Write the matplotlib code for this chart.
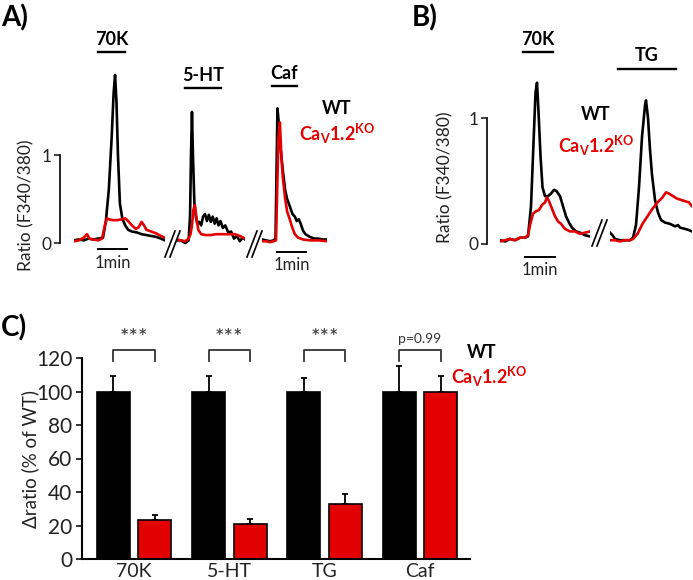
import numpy as np
import matplotlib
matplotlib.use("Agg")
import matplotlib.pyplot as plt
from matplotlib.lines import Line2D

plt.rcParams['font.family'] = ['Lato', 'DejaVu Sans']
plt.rcParams['mathtext.fontset'] = 'custom'
plt.rcParams['mathtext.rm'] = 'Lato'
plt.rcParams['mathtext.bf'] = 'Lato:bold'

RED = '#e30000'
KO_LABEL = r'$\mathbf{Ca_{V}1.2^{KO}}$'

# ---- panel A traces (time in s, ratio F340/380) ----
a1_wt_t = [0, 10, 20, 30, 40, 50, 60, 66, 72, 78, 82, 85, 88, 91, 95, 100, 106, 112, 120, 130, 140, 150, 160, 170, 180, 188]
a1_wt_v = [0.03, 0.04, 0.03, 0.05, 0.04, 0.05, 0.06, 0.25, 0.6, 1.2, 1.7, 1.91, 1.6, 1.0, 0.45, 0.28, 0.2, 0.15, 0.13, 0.12, 0.1, 0.09, 0.08, 0.07, 0.05, 0.03]
a1_ko_t = [0, 10, 20, 27, 32, 40, 50, 58, 64, 68, 72, 80, 90, 100, 106, 112, 120, 128, 134, 140, 145, 150, 160, 170, 180, 188]
a1_ko_v = [0.02, 0.03, 0.06, 0.1, 0.05, 0.04, 0.03, 0.05, 0.2, 0.28, 0.27, 0.26, 0.26, 0.27, 0.28, 0.25, 0.2, 0.16, 0.18, 0.24, 0.2, 0.15, 0.13, 0.11, 0.08, 0.06]

a2_wt_t = [0, 8, 17, 24, 27, 29, 31, 33, 36, 39, 42, 46, 50, 54, 58, 62, 66, 70, 74, 78, 82, 86, 90, 95, 100, 106, 112, 118, 124, 130, 136, 141]
a2_wt_v = [0.03, 0.03, 0.0, 0.03, 0.3, 1.0, 1.49, 1.0, 0.45, 0.3, 0.22, 0.24, 0.2, 0.3, 0.33, 0.25, 0.32, 0.24, 0.3, 0.22, 0.28, 0.2, 0.25, 0.17, 0.2, 0.12, 0.13, 0.05, 0.08, 0.02, 0.06, 0.04]
a2_ko_t = [0, 8, 17, 24, 28, 31, 34, 37, 40, 44, 50, 60, 70, 80, 90, 100, 110, 120, 130, 141]
a2_ko_v = [0.04, 0.03, 0.02, 0.05, 0.1, 0.2, 0.38, 0.43, 0.3, 0.15, 0.1, 0.09, 0.09, 0.1, 0.1, 0.1, 0.1, 0.1, 0.08, 0.05]

a3_wt_t = [0, 8, 17, 24, 28, 30, 32, 35, 38, 43, 48, 52, 58, 63, 68, 72, 76, 80, 85, 90, 99, 108, 116, 125, 135]
a3_wt_v = [0.04, 0.03, 0.02, 0.03, 0.05, 0.8, 1.53, 1.35, 1.1, 0.83, 0.6, 0.5, 0.41, 0.33, 0.3, 0.25, 0.27, 0.22, 0.14, 0.1, 0.07, 0.05, 0.05, 0.04, 0.04]
a3_ko_t = [0, 8, 17, 24, 29, 31, 34, 37, 40, 43, 48, 52, 58, 63, 68, 75, 85, 99, 116, 135]
a3_ko_v = [0.02, 0.02, 0.01, 0.02, 0.03, 0.5, 1.2, 1.37, 1.0, 0.75, 0.5, 0.36, 0.26, 0.17, 0.1, 0.06, 0.04, 0.03, 0.03, 0.02]

# ---- panel B traces ----
b1_wt_t = [0, 10, 20, 30, 40, 50, 56, 62, 67, 71, 74, 77, 81, 85, 90, 96, 102, 108, 113, 120, 126, 132, 138, 144, 152, 160, 170, 180]
b1_wt_v = [0.03, 0.02, 0.04, 0.03, 0.05, 0.05, 0.06, 0.3, 0.8, 1.2, 1.28, 1.05, 0.7, 0.45, 0.38, 0.38, 0.4, 0.43, 0.42, 0.38, 0.3, 0.22, 0.17, 0.13, 0.1, 0.09, 0.07, 0.06]
b1_ko_t = [0, 10, 20, 30, 40, 50, 56, 60, 66, 72, 78, 84, 90, 94, 98, 104, 110, 116, 122, 130, 140, 150, 160, 170, 180]
b1_ko_v = [0.02, 0.03, 0.04, 0.03, 0.05, 0.05, 0.07, 0.15, 0.24, 0.26, 0.27, 0.31, 0.33, 0.37, 0.34, 0.28, 0.22, 0.18, 0.16, 0.12, 0.1, 0.1, 0.08, 0.09, 0.1]

b2_wt_t = [0, 5, 10, 20, 30, 40, 46, 52, 58, 64, 70, 72, 76, 80, 84, 90, 96, 102, 110, 120, 130, 136, 140, 150, 158, 164]
b2_wt_v = [0.09, 0.07, 0.04, 0.03, 0.03, 0.03, 0.05, 0.15, 0.45, 0.85, 1.1, 1.14, 1.0, 0.75, 0.55, 0.35, 0.25, 0.19, 0.17, 0.16, 0.14, 0.15, 0.13, 0.12, 0.11, 0.1]
b2_ko_t = [0, 10, 20, 30, 40, 46, 55, 65, 75, 85, 95, 105, 112, 118, 126, 134, 142, 150, 158, 164]
b2_ko_v = [0.03, 0.03, 0.02, 0.03, 0.03, 0.04, 0.08, 0.16, 0.22, 0.28, 0.33, 0.37, 0.41, 0.4, 0.38, 0.36, 0.35, 0.34, 0.33, 0.3]

# ---- panel C bars (% of WT) ----
groups = ['70K', '5-HT', 'TG', 'Caf']
wt_mean = [100, 100, 100, 100]
wt_err = [9, 9, 8, 15]
ko_mean = [23, 21, 33, 100]
ko_err = [3, 3, 6, 9]
sig_labels = ['***', '***', '***', 'p=0.99']

W, H = 693, 580
fig = plt.figure(figsize=(W / 100, H / 100), dpi=100)


def px_box(x0, y0, x1, y1):
    return [x0 / W, 1 - y1 / H, (x1 - x0) / W, (y1 - y0) / H]


def trace_axes(left, tmax, pps, zero, ppu, ymin=-0.25, ymax=2.3):
    ax = fig.add_axes(px_box(left, zero - ymax * ppu, left + tmax * pps, zero - ymin * ppu))
    ax.set_xlim(0, tmax)
    ax.set_ylim(ymin, ymax)
    for s in ax.spines.values():
        s.set_visible(False)
    ax.set_xticks([])
    ax.set_yticks([])
    ax.patch.set_visible(False)
    return ax


def scale_spine(ax, offset_px):
    sp = ax.spines['left']
    sp.set_visible(True)
    sp.set_bounds(0, 1)
    sp.set_position(('outward', offset_px * 0.72))
    sp.set_linewidth(1.2)
    ax.set_yticks([0, 1])
    ax.set_yticklabels(['0', '1'])
    ax.tick_params(axis='y', length=4, width=1.2, labelsize=12.5, pad=2, colors='#222222')


def stim(ax, label, t0, t1, y, dy):
    ax.plot([t0, t1], [y, y], color='k', lw=1.7, clip_on=False)
    ax.text((t0 + t1) / 2, y + dy, label, ha='center', va='bottom',
            fontsize=13, fontweight='bold', clip_on=False)


def min_bar(ax, t0, y, dy):
    ax.plot([t0, t0 + 60], [y, y], color='k', lw=1.4, clip_on=False)
    ax.text(t0 + 30, y - dy, '1min', ha='center', va='top', fontsize=12,
            color='#222222', clip_on=False)


def brk(x0, y0):
    for d in (0, 5):
        fig.add_artist(Line2D([(x0 + d) / W, (x0 + d + 10) / W],
                              [1 - y0 / H, 1 - (y0 - 26) / H], color='k', lw=1.2))


# ---------------- panel A ----------------
ppsA, zeroA, ppuA = 0.483, 243, 88
axA1 = trace_axes(74, 188, ppsA, zeroA, ppuA)
axA2 = trace_axes(177, 141, ppsA, zeroA, ppuA)
axA3 = trace_axes(262, 135, ppsA, zeroA, ppuA)
for ax, (wt_t, wt_v, ko_t, ko_v) in zip(
        [axA1, axA2, axA3],
        [(a1_wt_t, a1_wt_v, a1_ko_t, a1_ko_v),
         (a2_wt_t, a2_wt_v, a2_ko_t, a2_ko_v),
         (a3_wt_t, a3_wt_v, a3_ko_t, a3_ko_v)]):
    ax.plot(wt_t, wt_v, color='k', lw=1.9)
    ax.plot(ko_t, ko_v, color=RED, lw=1.9)
scale_spine(axA1, 14)
stim(axA1, '70K', 50, 106, 2.17, 0.05)
stim(axA2, '5-HT', 17, 91, 1.76, 0.05)
stim(axA3, 'Caf', 21, 72, 1.78, 0.05)
min_bar(axA1, 50, -0.07, 0.07)
min_bar(axA3, 31, -0.1, 0.06)
brk(165, 257)
brk(247, 257)

fig.text(26 / W, 1 - 205 / H, 'Ratio (F340/380)', rotation=90, ha='center', va='center',
         fontsize=12.5, color='#222222')
fig.text(337 / W, 1 - 108 / H, 'WT', ha='center', va='center', fontsize=13, fontweight='bold')
fig.text(299 / W, 1 - 134 / H, KO_LABEL, ha='left', va='center', fontsize=13, color=RED)
fig.text(1 / W, 1 - 18 / H, 'A)', ha='left', va='center', fontsize=20, fontweight='bold')

# ---------------- panel B ----------------
ppsB, zeroB, ppuB = 0.5, 244, 126
axB1 = trace_axes(500, 180, ppsB, zeroB, ppuB, ymin=-0.2, ymax=1.7)
axB2 = trace_axes(610, 164, ppsB, zeroB, ppuB, ymin=-0.2, ymax=1.7)
for ax, (wt_t, wt_v, ko_t, ko_v) in zip(
        [axB1, axB2],
        [(b1_wt_t, b1_wt_v, b1_ko_t, b1_ko_v),
         (b2_wt_t, b2_wt_v, b2_ko_t, b2_ko_v)]):
    ax.plot(wt_t, wt_v, color='k', lw=1.9)
    ax.plot(ko_t, ko_v, color=RED, lw=1.9)
scale_spine(axB1, 13)
stim(axB1, '70K', 46, 106, 1.52, 0.035)
stim(axB2, 'TG', 16, 132, 1.39, 0.035)
min_bar(axB1, 50, -0.1, 0.045)
brk(592, 246)

fig.text(445 / W, 1 - 177 / H, 'Ratio (F340/380)', rotation=90, ha='center', va='center',
         fontsize=12.5, color='#222222')
fig.text(596 / W, 1 - 115 / H, 'WT', ha='center', va='center', fontsize=13, fontweight='bold')
fig.text(558 / W, 1 - 146 / H, KO_LABEL, ha='left', va='center', fontsize=13, color=RED)
fig.text(412 / W, 1 - 18 / H, 'B)', ha='left', va='center', fontsize=20, fontweight='bold')

# ---------------- panel C ----------------
axC = fig.add_axes(px_box(82, 358, 470, 559))
x = np.arange(len(groups))
off, bw = 0.218, 0.346
axC.bar(x - off, wt_mean, bw, color='k', edgecolor='k', lw=1.2, zorder=2)
axC.bar(x + off, ko_mean, bw, color=RED, edgecolor='k', lw=1.2, zorder=2)
axC.errorbar(x - off, wt_mean, yerr=[np.zeros(4), wt_err], fmt='none', ecolor='k',
             elinewidth=1.3, capsize=2.5, capthick=1.3, zorder=1)
axC.errorbar(x + off, ko_mean, yerr=[np.zeros(4), ko_err], fmt='none', ecolor='k',
             elinewidth=1.3, capsize=2.5, capthick=1.3, zorder=1)
for i, lab in enumerate(sig_labels):
    axC.plot([i - off, i - off, i + off, i + off], [118, 125, 125, 118], color='#333333',
             lw=1.3, clip_on=False)
    if lab.startswith('p'):
        axC.text(i, 128, lab, ha='center', va='bottom', fontsize=10, color='#333333', clip_on=False)
    else:
        axC.text(i, 126, lab, ha='center', va='bottom', fontsize=16, color='#333333', clip_on=False)

axC.set_xlim(-0.546, 3.526)
axC.set_ylim(0, 120)
axC.set_yticks(range(0, 121, 20))
axC.set_xticks(x)
axC.set_xticklabels(groups)
axC.tick_params(axis='y', length=4, width=1.3, labelsize=15, pad=3, colors='#222222')
axC.tick_params(axis='x', length=0, labelsize=14, pad=3, colors='#222222')
for s in ['top', 'right']:
    axC.spines[s].set_visible(False)
for s in ['left', 'bottom']:
    axC.spines[s].set_linewidth(1.5)
axC.patch.set_visible(False)

fig.text(30 / W, 1 - 459 / H, 'Δratio (% of WT)', rotation=90, ha='center', va='center',
         fontsize=13.5, color='#222222')
fig.text(482 / W, 1 - 353 / H, 'WT', ha='center', va='center', fontsize=13, fontweight='bold')
fig.text(451 / W, 1 - 377 / H, KO_LABEL, ha='left', va='center', fontsize=13, color=RED)
fig.text(1 / W, 1 - 328 / H, 'C)', ha='left', va='center', fontsize=20, fontweight='bold')

fig.savefig('out.png', dpi=100)
